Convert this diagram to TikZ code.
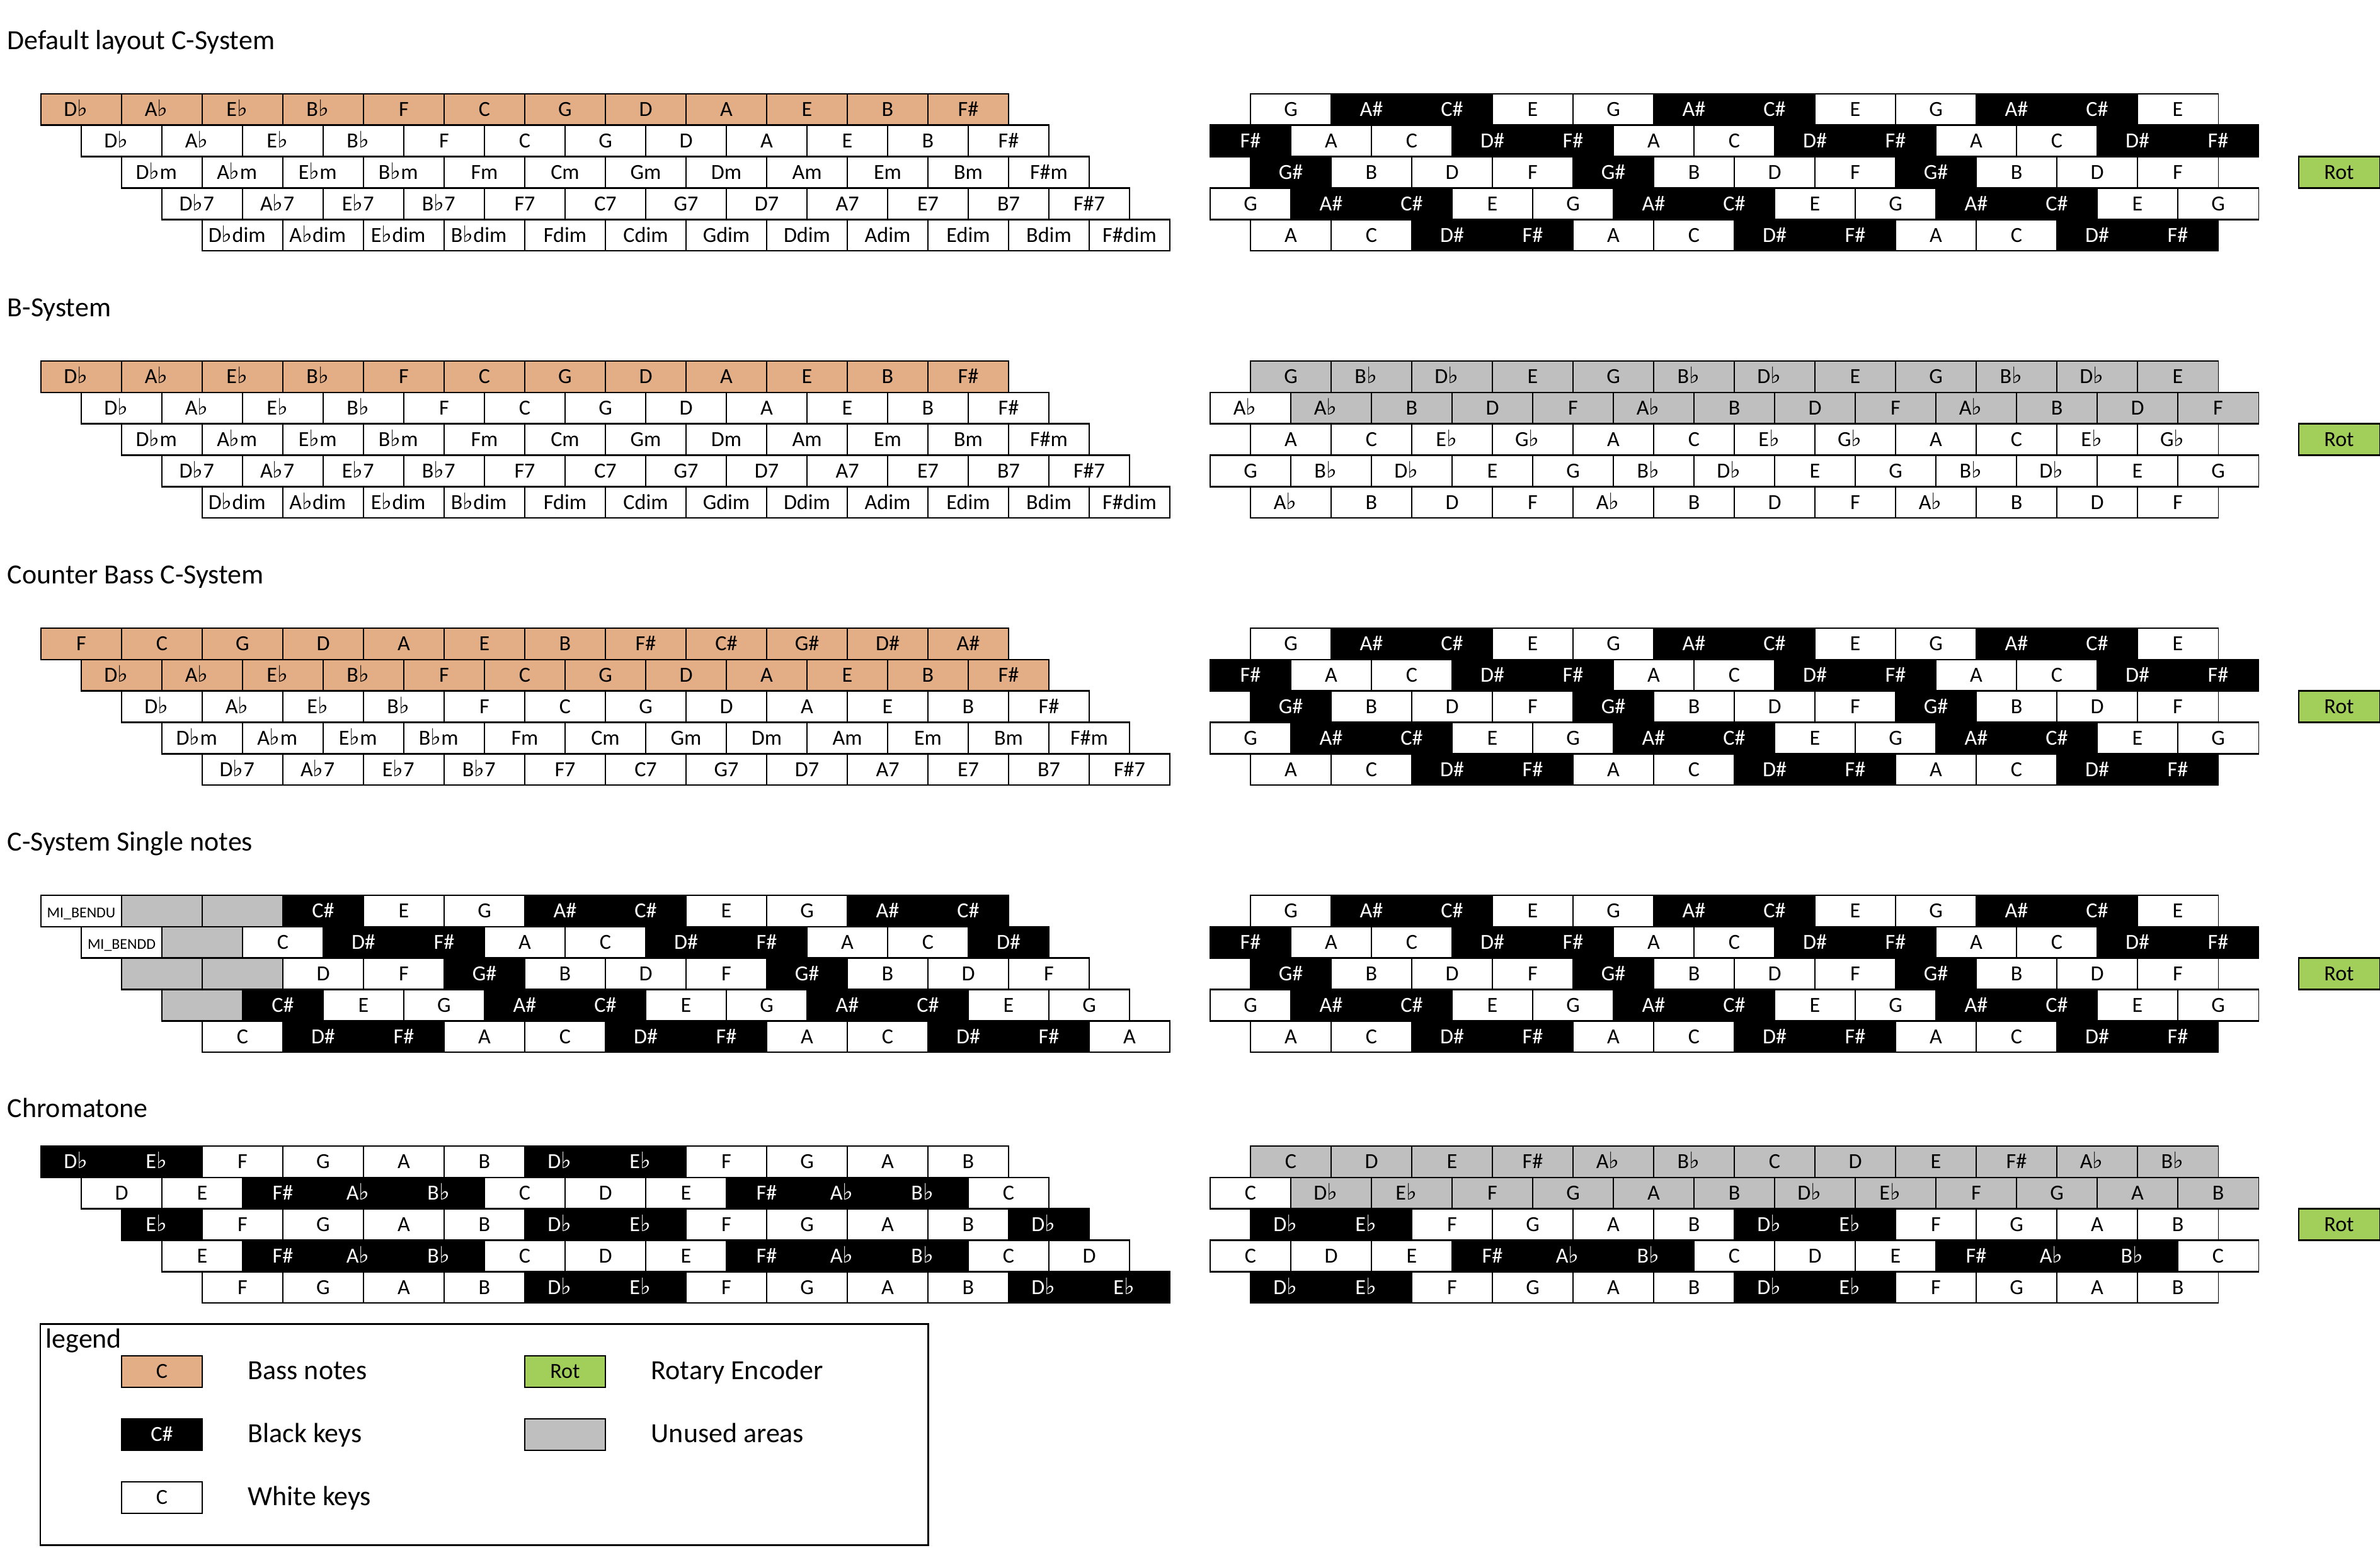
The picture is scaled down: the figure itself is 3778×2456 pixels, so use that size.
\documentclass[tikz,border=0pt]{standalone}
\usepackage{fontspec}
\setmainfont{Carlito}
\newfontfamily\symfont{DejaVu Sans}
\def\flkern{}
\newcommand{\fl}{{\symfont\fontsize{10.2}{10.2}\selectfont ♭}\def\flkern{\kern5pt}}
\newcommand{\mibu}{{\fontsize{6.8}{7}\selectfont MI\_BENDU}}
\newcommand{\mibd}{{\fontsize{6.8}{7}\selectfont MI\_BENDD}}
\definecolor{fw}{HTML}{FFFFFF}\definecolor{tw}{HTML}{000000}
\definecolor{fb}{HTML}{000000}\definecolor{tb}{HTML}{FFFFFF}
\definecolor{ft}{HTML}{E3AE85}\definecolor{tt}{HTML}{000000}
\definecolor{fg}{HTML}{BFBFBF}\definecolor{tg}{HTML}{000000}
\definecolor{fr}{HTML}{A2CF5A}\definecolor{tr}{HTML}{000000}
\tikzset{
  cellbase/.style={draw=black, inner sep=0pt, outer sep=0pt, minimum width=1.28cm,
    minimum height=0.498cm, font=\fontsize{9.7}{10}\selectfont, text height=6.25pt, text depth=0pt},
  hrule/.style={line width=0.75pt, line cap=rect},
  title/.style={anchor=base west, inner sep=0pt, font=\fontsize{12.5}{14}\selectfont},
}
% #1 x0, #2 top, #3 n, #4 name, #5 cell line width, #6 list macro
\newcommand{\krow}[6]{%
  \foreach \k/\lab [count=\i from 0] in #6 {%
    \node[cellbase, line width=#5, fill=f\k, text=t\k] (#4-\i) at ({#1+128*\i+64},{#2+24.9}) {\lab\flkern};
  }%
  \draw[hrule] ({#1},{#2}) -- ({#1+128*#3},{#2});
  \draw[hrule] ({#1},{#2+49.8}) -- ({#1+128*#3},{#2+49.8});
}
% left keyboard: #1 top, #2 name, #3..#7 lists
\newcommand{\leftkb}[7]{%
  \krow{65}{#1}{12}{#2a}{0.5pt}{#3}
  \krow{129}{#1+49.8}{12}{#2b}{0.5pt}{#4}
  \krow{193}{#1+99.6}{12}{#2c}{0.5pt}{#5}
  \krow{257}{#1+149.4}{12}{#2d}{0.5pt}{#6}
  \krow{321}{#1+199.2}{12}{#2e}{0.5pt}{#7}
}
\newcommand{\rightkb}[7]{%
  \krow{1985}{#1}{12}{#2a}{0.3pt}{#3}
  \krow{1921}{#1+49.8}{13}{#2b}{0.3pt}{#4}
  \krow{1985}{#1+99.6}{12}{#2c}{0.3pt}{#5}
  \krow{1921}{#1+149.4}{13}{#2d}{0.3pt}{#6}
  \krow{1985}{#1+199.2}{12}{#2e}{0.3pt}{#7}
  \krow{3649}{#1+99.6}{1}{#2rot}{0.3pt}{\RotL}
}
\def\RotL{r/Rot}
% left lists
\def\LBass{t/D\fl,t/A\fl,t/E\fl,t/B\fl,t/F,t/C,t/G,t/D,t/A,t/E,t/B,t/F\#}
\def\LMaj{w/D\fl,w/A\fl,w/E\fl,w/B\fl,w/F,w/C,w/G,w/D,w/A,w/E,w/B,w/F\#}
\def\LMin{w/D\fl m,w/A\fl m,w/E\fl m,w/B\fl m,w/Fm,w/Cm,w/Gm,w/Dm,w/Am,w/Em,w/Bm,w/F\#m}
\def\LSev{w/D\fl 7,w/A\fl 7,w/E\fl 7,w/B\fl 7,w/F7,w/C7,w/G7,w/D7,w/A7,w/E7,w/B7,w/F\#7}
\def\LDim{w/D\fl dim,w/A\fl dim,w/E\fl dim,w/B\fl dim,w/Fdim,w/Cdim,w/Gdim,w/Ddim,w/Adim,w/Edim,w/Bdim,w/F\#dim}
\def\LCBass{t/F,t/C,t/G,t/D,t/A,t/E,t/B,t/F\#,t/C\#,t/G\#,t/D\#,t/A\#}
\def\SNa{w/\mibu,g/{},g/{},b/C\#,w/E,w/G,b/A\#,b/C\#,w/E,w/G,b/A\#,b/C\#}
\def\SNb{w/\mibd,g/{},w/C,b/D\#,b/F\#,w/A,w/C,b/D\#,b/F\#,w/A,w/C,b/D\#}
\def\SNc{g/{},g/{},w/D,w/F,b/G\#,w/B,w/D,w/F,b/G\#,w/B,w/D,w/F}
\def\SNd{g/{},b/C\#,w/E,w/G,b/A\#,b/C\#,w/E,w/G,b/A\#,b/C\#,w/E,w/G}
\def\SNe{w/C,b/D\#,b/F\#,w/A,w/C,b/D\#,b/F\#,w/A,w/C,b/D\#,b/F\#,w/A}
\def\CTa{b/D\fl,b/E\fl,w/F,w/G,w/A,w/B,b/D\fl,b/E\fl,w/F,w/G,w/A,w/B}
\def\CTb{w/D,w/E,b/F\#,b/A\fl,b/B\fl,w/C,w/D,w/E,b/F\#,b/A\fl,b/B\fl,w/C}
\def\CTc{b/E\fl,w/F,w/G,w/A,w/B,b/D\fl,b/E\fl,w/F,w/G,w/A,w/B,b/D\fl}
\def\CTd{w/E,b/F\#,b/A\fl,b/B\fl,w/C,w/D,w/E,b/F\#,b/A\fl,b/B\fl,w/C,w/D}
\def\CTe{w/F,w/G,w/A,w/B,b/D\fl,b/E\fl,w/F,w/G,w/A,w/B,b/D\fl,b/E\fl}
% right lists
\def\RCa{w/G,b/A\#,b/C\#,w/E,w/G,b/A\#,b/C\#,w/E,w/G,b/A\#,b/C\#,w/E}
\def\RCb{b/F\#,w/A,w/C,b/D\#,b/F\#,w/A,w/C,b/D\#,b/F\#,w/A,w/C,b/D\#,b/F\#}
\def\RCc{b/G\#,w/B,w/D,w/F,b/G\#,w/B,w/D,w/F,b/G\#,w/B,w/D,w/F}
\def\RCd{w/G,b/A\#,b/C\#,w/E,w/G,b/A\#,b/C\#,w/E,w/G,b/A\#,b/C\#,w/E,w/G}
\def\RCe{w/A,w/C,b/D\#,b/F\#,w/A,w/C,b/D\#,b/F\#,w/A,w/C,b/D\#,b/F\#}
\def\RBa{g/G,g/B\fl,g/D\fl,g/E,g/G,g/B\fl,g/D\fl,g/E,g/G,g/B\fl,g/D\fl,g/E}
\def\RBb{w/A\fl,g/A\fl,g/B,g/D,g/F,g/A\fl,g/B,g/D,g/F,g/A\fl,g/B,g/D,g/F}
\def\RBc{w/A,w/C,w/E\fl,w/G\fl,w/A,w/C,w/E\fl,w/G\fl,w/A,w/C,w/E\fl,w/G\fl}
\def\RBd{w/G,w/B\fl,w/D\fl,w/E,w/G,w/B\fl,w/D\fl,w/E,w/G,w/B\fl,w/D\fl,w/E,w/G}
\def\RBe{w/A\fl,w/B,w/D,w/F,w/A\fl,w/B,w/D,w/F,w/A\fl,w/B,w/D,w/F}
\def\RTa{g/C,g/D,g/E,g/F\#,g/A\fl,g/B\fl,g/C,g/D,g/E,g/F\#,g/A\fl,g/B\fl}
\def\RTb{w/C,g/D\fl,g/E\fl,g/F,g/G,g/A,g/B,g/D\fl,g/E\fl,g/F,g/G,g/A,g/B}
\def\RTc{b/D\fl,b/E\fl,w/F,w/G,w/A,w/B,b/D\fl,b/E\fl,w/F,w/G,w/A,w/B}
\def\RTd{w/C,w/D,w/E,b/F\#,b/A\fl,b/B\fl,w/C,w/D,w/E,b/F\#,b/A\fl,b/B\fl,w/C}
% legend swatches
\def\LgBass{t/C}\def\LgBlack{b/C\#}\def\LgWhite{w/C}\def\LgRot{r/Rot}\def\LgGray{g/{}}
\begin{document}
\begin{tikzpicture}[x=0.01cm, y=-0.01cm]
\useasboundingbox (0,0) rectangle (3778,2456);
% section 1
\node[title] (t1) at (11,78) {Default layout C-System};
\leftkb{149}{s1l}{\LBass}{\LMaj}{\LMin}{\LSev}{\LDim}
\rightkb{149}{s1r}{\RCa}{\RCb}{\RCc}{\RCd}{\RCe}
% section 2
\node[title] (t2) at (11,502) {B-System};
\leftkb{573}{s2l}{\LBass}{\LMaj}{\LMin}{\LSev}{\LDim}
\rightkb{573}{s2r}{\RBa}{\RBb}{\RBc}{\RBd}{\RBe}
% section 3
\node[title] (t3) at (11,926) {Counter Bass C-System};
\leftkb{997}{s3l}{\LCBass}{\LBass}{\LMaj}{\LMin}{\LSev}
\rightkb{997}{s3r}{\RCa}{\RCb}{\RCc}{\RCd}{\RCe}
% section 4
\node[title] (t4) at (11,1350) {C-System Single notes};
\leftkb{1421}{s4l}{\SNa}{\SNb}{\SNc}{\SNd}{\SNe}
\rightkb{1421}{s4r}{\RCa}{\RCb}{\RCc}{\RCd}{\RCe}
% section 5
\node[title] (t5) at (11,1773) {Chromatone};
\leftkb{1819}{s5l}{\CTa}{\CTb}{\CTc}{\CTd}{\CTe}
\rightkb{1819}{s5r}{\RTa}{\RTb}{\RTc}{\RTd}{\RTc}
% legend
\draw[line width=0.85pt] (64,2101) rectangle (1473,2452);
\node[title] (lgt) at (72,2139) {legend};
\krow{193}{2152}{1}{lgbass}{0.4pt}{\LgBass}
\krow{193}{2252}{1}{lgblack}{0.4pt}{\LgBlack}
\krow{193}{2352}{1}{lgwhite}{0.4pt}{\LgWhite}
\krow{833}{2152}{1}{lgrot}{0.4pt}{\LgRot}
\krow{833}{2252}{1}{lggray}{0.4pt}{\LgGray}
\node[title] (lb1) at (393,2189) {Bass notes};
\node[title] (lb2) at (393,2289) {Black keys};
\node[title] (lb3) at (393,2389) {White keys};
\node[title] (lb4) at (1033,2189) {Rotary Encoder};
\node[title] (lb5) at (1033,2289) {Unused areas};
\end{tikzpicture}
\end{document}
